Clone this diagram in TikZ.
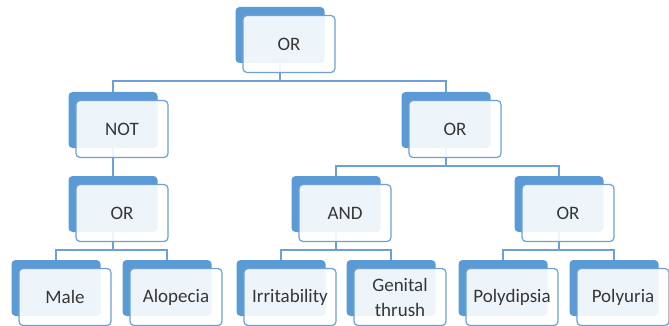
\documentclass[tikz,border=0pt]{standalone}
\usepackage{fontspec}
\setmainfont{Carlito}
\definecolor{boxblue}{HTML}{5B9BD5}
\definecolor{lineblue}{HTML}{6E9FD6}
\definecolor{textgray}{HTML}{363636}
\tikzset{
  back/.style={fill=boxblue, rounded corners=4pt, minimum width=89pt,
    minimum height=56pt, inner sep=0pt},
  front/.style={draw=lineblue, line width=1.2pt, fill=white, fill opacity=.9,
    text opacity=1, rounded corners=4pt, minimum width=92pt, minimum height=57pt,
    inner sep=0pt, align=center, text=textgray,
    font=\fontsize{19}{25}\selectfont},
  link/.style={draw=lineblue, line width=1.3pt}
}
\begin{document}
\begin{tikzpicture}[x=1pt,y=-1pt]
\useasboundingbox (0,0) rectangle (669,326);
% Back boxes
\node[back] (root-back) at (280,35) {};
\node[back] (not-back) at (113,120) {};
\node[back] (or-right-back) at (446,120) {};
\node[back] (or-left-back) at (113,204) {};
\node[back] (and-back) at (336,204) {};
\node[back] (or-sym-back) at (559,204) {};
\node[back] (male-back) at (56,288) {};
\node[back] (alopecia-back) at (167,288) {};
\node[back] (irrit-back) at (281,288) {};
\node[back] (thrush-back) at (391,288) {};
\node[back] (polydipsia-back) at (503,288) {};
\node[back] (polyuria-back) at (614,288) {};
% Levels of the joining bars
\coordinate (bar-1) at (0,81);
\coordinate (bar-2) at (0,166);
\coordinate (bar-3) at (0,250);
% Connectors
\draw[link] (root-back.south) -- (root-back.south |- bar-1) -| (not-back.north);
\draw[link] (root-back.south |- bar-1) -| (or-right-back.north);
\draw[link] (not-back.south) -- (or-left-back.north);
\draw[link] (or-right-back.south) -- (or-right-back.south |- bar-2) -| (and-back.north);
\draw[link] (or-right-back.south |- bar-2) -| (or-sym-back.north);
\draw[link] (or-left-back.south) -- (or-left-back.south |- bar-3) -| (male-back.north);
\draw[link] (or-left-back.south |- bar-3) -| (alopecia-back.north);
\draw[link] (and-back.south) -- (and-back.south |- bar-3) -| (irrit-back.north);
\draw[link] (and-back.south |- bar-3) -| (thrush-back.north);
\draw[link] (or-sym-back.south) -- (or-sym-back.south |- bar-3) -| (polydipsia-back.north);
\draw[link] (or-sym-back.south |- bar-3) -| (polyuria-back.north);
% Front boxes
\node[front] (root) at (289,44) {OR};
\node[front] (not) at (122,129) {NOT};
\node[front] (or-right) at (455,129) {OR};
\node[front] (or-left) at (122,213) {OR};
\node[front] (and) at (345,213) {AND};
\node[front] (or-sym) at (568,213) {OR};
\node[front] (male) at (65,297) {Male};
\node[front] (alopecia) at (176,297) {Alopecia};
\node[front] (irrit) at (290,297) {Irritability};
\node[front] (thrush) at (400,297) {Genital\\thrush};
\node[front] (polydipsia) at (512,297) {Polydipsia};
\node[front] (polyuria) at (623,297) {Polyuria};
\end{tikzpicture}
\end{document}
